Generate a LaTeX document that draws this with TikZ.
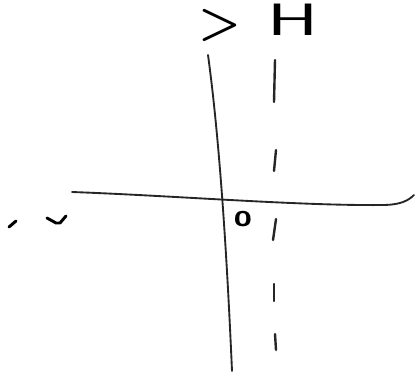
\documentclass[tikz,border=0pt]{standalone}
\usepackage{tikz}
\usetikzlibrary{positioning}
\tikzset{
  axisline/.style={line width=1.4pt, line cap=round, black!85},
  dashline/.style={line width=1.8pt, line cap=round, black!85},
  scribble/.style={line width=2.2pt, line cap=round, line join=round},
  glyph/.style={font=\sffamily\bfseries\fontsize{36}{38}\selectfont, inner sep=0pt},
  thinglyph/.style={font=\sffamily\fontsize{34}{36}\selectfont, inner sep=0pt},
  smallglyph/.style={font=\sffamily\bfseries\fontsize{24}{26}\selectfont, inner sep=0pt}
}

\begin{document}
\begin{tikzpicture}[x=0.75pt, y=-0.75pt]
  \useasboundingbox (0,0) rectangle (417,384);
  % labels on top
  \node[glyph] (gt) at (220,25) {>};
  \node[thinglyph, xscale=1.7] (hh) at (293,20) {H};
  \node[smallglyph] (orig) at (243,219) {o};
  % the two curves
  \draw[axisline] (72,192) .. controls (180,196) and (300,206) .. (385,205)
    .. controls (400,204.5) and (408,201) .. (414,195);
  \draw[axisline] (208,55) .. controls (221,150) and (228,280) .. (232,371);
  % dashed guide
  \draw[dashline] (275,60) -- (274,102);
  \draw[dashline] (276,150) -- (274,171);
  \draw[dashline] (276,219) -- (273,240);
  \draw[dashline] (274,284) -- (274,301);
  \draw[dashline] (275,334) -- (276,350);
  % marks on the left
  \draw[scribble] (9,227) -- (16,221);
  \draw[scribble] (47,218) -- (56,223) -- (60,223) -- (66,216);
\end{tikzpicture}
\end{document}
